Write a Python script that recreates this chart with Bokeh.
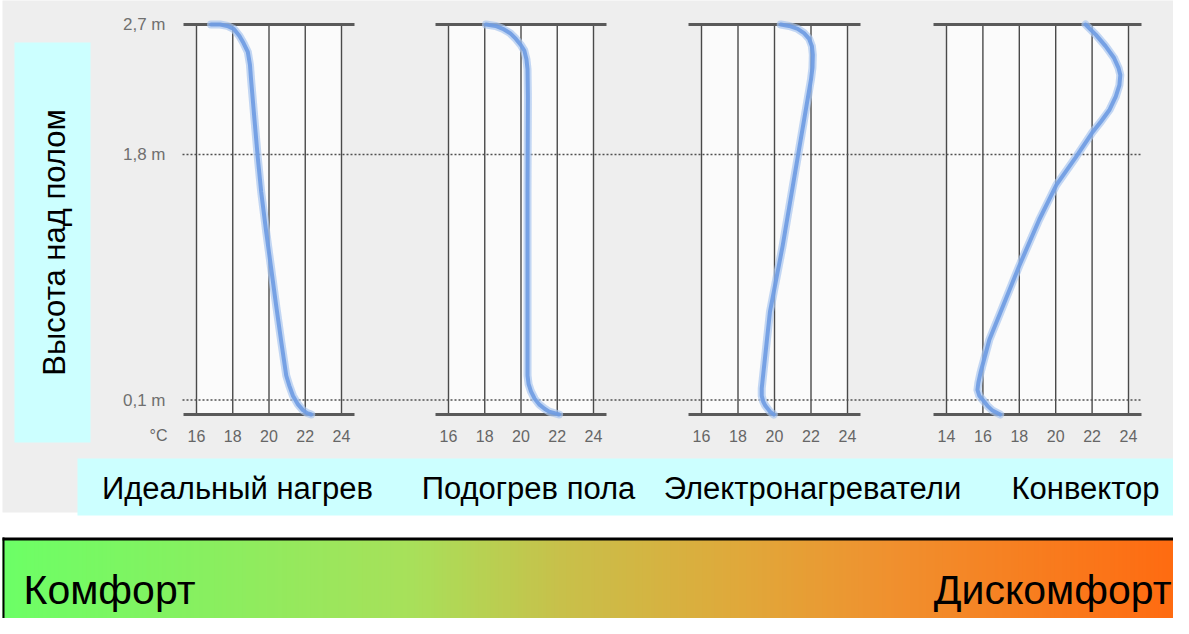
import numpy as np
from bokeh.plotting import figure
from bokeh.models import Range1d
from bokeh.core.properties import value
from bokeh.embed import file_html
from bokeh.resources import INLINE

# ---------------- data ----------------
height_ticks = [0.1, 1.8, 2.7]
height_labels = ["0,1 m", "1,8 m", "2,7 m"]
temp_unit = "°C"
y_title = "Высота над полом"

panel_names = ["Идеальный нагрев", "Подогрев пола", "Электронагреватели", "Конвектор"]
panel_ticks = [
    [16, 18, 20, 22, 24],
    [16, 18, 20, 22, 24],
    [16, 18, 20, 22, 24],
    [14, 16, 18, 20, 22, 24],
]

ideal_t = [16.8, 17.3, 17.7, 18.05, 18.37, 18.6, 18.83, 18.95, 19.01, 19.2, 19.38, 19.57,
           19.85, 20.12, 20.4, 20.68, 20.95, 21.12, 21.32, 21.6, 21.87, 22.1, 22.33]
ideal_h = [2.70, 2.70, 2.69, 2.67, 2.62, 2.57, 2.51, 2.42, 2.32, 2.04, 1.78, 1.54,
           1.26, 1.01, 0.75, 0.50, 0.27, 0.20, 0.13, 0.07, 0.03, 0.01, 0.0]

floor_t = [18.07, 18.6, 19.0, 19.4, 19.72, 19.98, 20.18, 20.3, 20.36, 20.38, 20.36, 20.36,
           20.42, 20.55, 20.75, 21.0, 21.3, 21.55, 22.1]
floor_h = [2.70, 2.69, 2.67, 2.64, 2.60, 2.56, 2.52, 2.46, 2.39, 2.20, 1.54, 0.27,
           0.21, 0.16, 0.11, 0.07, 0.04, 0.02, 0.0]

elec_t = [20.34, 20.8, 21.27, 21.62, 21.9, 22.05, 22.1, 22.08, 22.0, 21.27, 20.45, 19.75,
          19.35, 19.3, 19.3, 19.38, 19.5, 19.75, 19.96]
elec_h = [2.70, 2.69, 2.67, 2.64, 2.60, 2.55, 2.49, 2.40, 2.32, 1.78, 1.17, 0.71,
          0.24, 0.18, 0.13, 0.09, 0.06, 0.02, 0.0]

conv_t = [21.64, 22.2, 22.74, 23.2, 23.45, 23.55, 23.5, 23.3, 22.96, 22.5, 22.0, 21.1,
          20.04, 19.1, 18.0, 17.1, 16.36, 15.87, 15.75, 15.7, 15.8, 16.0, 16.25, 16.5, 16.95]
conv_h = [2.70, 2.63, 2.55, 2.47, 2.40, 2.35, 2.28, 2.20, 2.11, 2.03, 1.95, 1.78,
          1.59, 1.35, 1.03, 0.75, 0.52, 0.29, 0.22, 0.17, 0.13, 0.10, 0.06, 0.03, 0.0]

curves_t = [ideal_t, floor_t, elec_t, conv_t]
curves_h = [ideal_h, floor_h, elec_h, conv_h]

comfort_labels = ["Комфорт", "Дискомфорт"]

# ---------------- layout (page pixels) ----------------
W, H = 1173, 618


def px(x):
    return x - 8


def py(y):
    return H - (y - 8)


TOP_Y, FLOOR_Y = py(32), py(422)          # 2.7 m and 0 m
H_MAX = 2.7
ppm = (TOP_Y - FLOOR_Y) / H_MAX
# pixel position of first / last tick of each panel
panel_px = [(204, 349), (456, 601), (709, 855), (954, 1136)]

FONT = value("Liberation Sans")

p = figure(width=W, height=H, output_backend="svg", toolbar_location=None,
           x_range=Range1d(0, W), y_range=Range1d(0, H),
           x_axis_location=None, y_axis_location=None, min_border=0)
p.grid.visible = False
p.outline_line_color = None
p.background_fill_color = "white"
p.border_fill_color = "white"
p.extra_y_ranges = {"h": Range1d(-FLOOR_Y / ppm, (H - FLOOR_Y) / ppm)}

ranges = {}
for k, (ticks, (a, b)) in enumerate(zip(panel_ticks, panel_px)):
    t0, t1 = ticks[0], ticks[-1]
    ppd = (b - a) / (t1 - t0)
    ranges[f"p{k}"] = Range1d(t0 - px(a) / ppd, t0 + (W - px(a)) / ppd)
p.extra_x_ranges = ranges

# gray scan background
p.quad(left=px(10), right=W, top=py(6), bottom=py(520), color="#EEEEEE", line_color=None)

# cyan left box and rotated title
p.quad(left=px(22), right=px(98), top=py(50), bottom=py(450), color="#CCFFFF", line_color=None)
p.text(x=[px(62)], y=[py(250)], text=[y_title], angle=np.pi / 2, text_font=FONT,
       text_font_size="31px", text_align="center", text_baseline="middle", text_color="black")

# cyan label band
p.quad(left=px(85), right=W, top=py(466), bottom=py(523), color="#CCFFFF", line_color=None)

# panels
for k, ticks in enumerate(panel_ticks):
    rn = f"p{k}"
    a, b = panel_px[k]
    ppd = (b - a) / (ticks[-1] - ticks[0])
    pad = 13 / ppd
    t0, t1 = ticks[0], ticks[-1]
    p.quad(left=t0, right=t1, bottom=0, top=H_MAX, color="#FBFBFB", line_color=None,
           x_range_name=rn, y_range_name="h")
    p.segment(x0=ticks, y0=[0] * len(ticks), x1=ticks, y1=[H_MAX] * len(ticks),
              line_color="#4a4a4a", line_width=1.4, x_range_name=rn, y_range_name="h")
    p.segment(x0=[t0 - pad] * 2, x1=[t1 + pad] * 2, y0=[0, H_MAX], y1=[0, H_MAX],
              line_color="#5a5a5a", line_width=3, x_range_name=rn, y_range_name="h")
    # tick labels
    p.text(x=ticks, y=[py(443)] * len(ticks), text=[str(t) for t in ticks],
           text_font=FONT, text_font_size="16px", text_color="#666666",
           text_align="center", text_baseline="middle", x_range_name=rn)

# dotted reference lines at 0.1 m and 1.8 m
p.segment(x0=[px(190)] * 2, x1=[px(1149)] * 2, y0=height_ticks[:2], y1=height_ticks[:2],
          line_color="#505050", line_width=1.6, line_dash="2 2", y_range_name="h")

# curves
for k in range(4):
    rn = f"p{k}"
    p.line(x=curves_t[k], y=curves_h[k], line_color="#A9C6F0", line_width=8, line_alpha=0.7,
           line_join="round", line_cap="round", x_range_name=rn, y_range_name="h")
    p.line(x=curves_t[k], y=curves_h[k], line_color="#6E9BE2", line_width=4, line_alpha=0.9,
           line_join="round", line_cap="round", x_range_name=rn, y_range_name="h")

# height labels
p.text(x=[px(173)] * 3, y=height_ticks, text=height_labels, text_font=FONT,
       text_font_size="17px", text_color="#707070", text_align="right",
       text_baseline="middle", y_range_name="h")
p.text(x=[px(175)], y=[py(443)], text=[temp_unit], text_font=FONT, text_font_size="16px",
       text_color="#666666", text_align="right", text_baseline="middle")

# panel names
name_cx = [245, 536, 820, 1093]
p.text(x=[px(c) for c in name_cx], y=[py(496)] * 4, text=panel_names, text_font=FONT,
       text_font_size="31px", text_color="black", text_align="center", text_baseline="middle")

# gradient comfort bar
stops_x = [10, 200, 420, 570, 750, 900, 1189]
stops_c = [(108, 255, 102), (134, 240, 96), (168, 224, 90), (200, 192, 74),
           (224, 168, 58), (240, 144, 46), (255, 106, 16)]
edges = np.arange(10, 1190, 4)
mids = edges[:-1] + 2
cols = []
for m in mids:
    rgb = [int(round(np.interp(m, stops_x, [c[i] for c in stops_c]))) for i in range(3)]
    cols.append("#%02x%02x%02x" % tuple(rgb))
p.quad(left=[px(e) for e in edges[:-1]], right=[px(e) + 4.5 for e in edges[:-1]],
       top=[py(547)] * len(mids), bottom=[0] * len(mids), color=cols, line_color=None)
p.quad(left=[px(10)], right=[W], top=[py(545)], bottom=[py(548)], color="black", line_color=None)
p.quad(left=[px(10)], right=[px(12)], top=[py(545)], bottom=[0], color="black", line_color=None)

p.text(x=[px(31)], y=[py(597)], text=[comfort_labels[0]], text_font=FONT,
       text_font_size="41px", text_color="black", text_align="left", text_baseline="middle")
p.text(x=[px(1179)], y=[py(597)], text=[comfort_labels[1]], text_font=FONT,
       text_font_size="41px", text_color="black", text_align="right", text_baseline="middle")

open("out.html", "w").write(file_html(p, INLINE))
